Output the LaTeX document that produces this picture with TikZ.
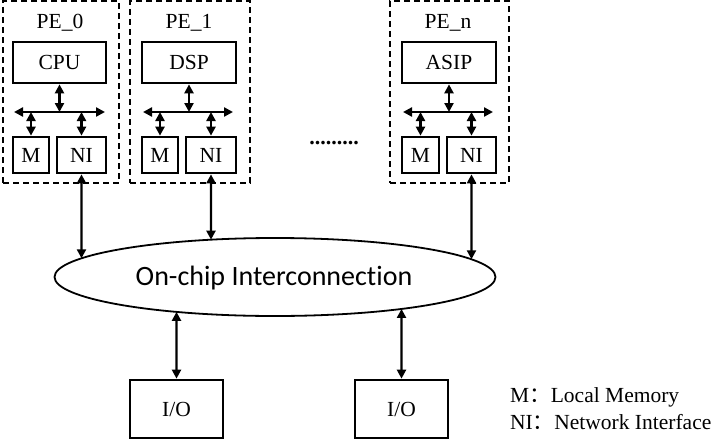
\documentclass[tikz,border=0pt]{standalone}
\usepackage{fontspec}
\setmainfont{Liberation Serif}
\newfontfamily\calfont[Ligatures={NoCommon,NoDiscretionary}]{Carlito}
\newfontfamily\cjkfont{Noto Sans CJK SC}
\usetikzlibrary{arrows.meta,shapes.geometric,intersections}
\begin{document}
\begin{tikzpicture}[x=1pt,y=-1pt,
  pebox/.style={draw,line width=2pt,dash pattern=on 6pt off 4pt,minimum width=#1,minimum height=182pt,inner sep=0pt},
  blk/.style={draw,line width=2.7pt,inner sep=0pt,font=\fontsize{21.5}{24}\selectfont},
  lbl/.style={inner sep=0pt,font=\fontsize{21.5}{24}\selectfont},
  con/.style={line width=2.3pt,{Triangle[length=9pt,width=9pt]}-{Triangle[length=9pt,width=9pt]}}
]
\useasboundingbox (0,0) rectangle (720,447);
\fill[white] (0,0) rectangle (720,447);

% PE boxes
\node[pebox=116pt] (pe0) at (61,92) {};
\node[pebox=120pt] (pe1) at (190,92) {};
\node[pebox=119pt] (pen) at (449.5,92) {};
\node[lbl] (pe0t) at (60,23) {PE\_0};
\node[lbl] (pe1t) at (189,23) {PE\_1};
\node[lbl] (pent) at (448,23) {PE\_n};

% processors
\node[blk,minimum width=93pt,minimum height=41pt] (cpu) at (59.5,62.5) {CPU};
\node[blk,minimum width=94pt,minimum height=41pt] (dsp) at (189,62.5) {DSP};
\node[blk,minimum width=94pt,minimum height=41pt] (asip) at (449,62.5) {ASIP};

% M and NI boxes
\node[blk,minimum width=36pt,minimum height=36pt] (m0) at (31,155) {M};
\node[blk,minimum width=49pt,minimum height=36pt] (ni0) at (81.5,155) {NI};
\node[blk,minimum width=36pt,minimum height=36pt] (m1) at (160,155) {M};
\node[blk,minimum width=50pt,minimum height=36pt] (ni1) at (211,155) {NI};
\node[blk,minimum width=37pt,minimum height=36pt] (mn) at (420.5,155) {M};
\node[blk,minimum width=49pt,minimum height=36pt] (nin) at (471.5,155) {NI};

% buses
\coordinate (b0l) at (14,112);  \coordinate (b0r) at (105,112);
\coordinate (b1l) at (143,112); \coordinate (b1r) at (233,112);
\coordinate (bnl) at (403,112); \coordinate (bnr) at (493,112);
\draw[con] (b0l) -- (b0r);
\draw[con] (b1l) -- (b1r);
\draw[con] (bnl) -- (bnr);

\draw[con] (cpu.south) -- (cpu.south |- b0l);
\draw[con] (dsp.south) -- (dsp.south |- b1l);
\draw[con] (asip.south) -- (asip.south |- bnl);
\draw[con] (m0.north |- b0l) -- (m0.north);
\draw[con] (ni0.north |- b0l) -- (ni0.north);
\draw[con] (m1.north |- b1l) -- (m1.north);
\draw[con] (ni1.north |- b1l) -- (ni1.north);
\draw[con] (mn.north |- bnl) -- (mn.north);
\draw[con] (nin.north |- bnl) -- (nin.north);

% dots
\node[inner sep=0pt,anchor=base,font=\fontsize{22}{24}\selectfont\bfseries] (dots) at (334,144) {.........};

% interconnection
\node[draw,ellipse,line width=1.8pt,minimum width=441pt,minimum height=78pt,inner sep=0pt,name path=ell] (ic) at (275,277) {};
\node[inner sep=0pt,font=\calfont\fontsize{28}{30}\selectfont] (ict) at (274,278) {On-chip Interconnection};

% I/O
\node[blk,minimum width=93pt,minimum height=58pt] (io1) at (176.5,409) {I/O};
\node[blk,minimum width=93pt,minimum height=58pt] (io2) at (401.5,409) {I/O};

% vertical connectors with ellipse
\path[name path=v0] (ni0.south) -- ++(0,150);
\path[name path=v1] (ni1.south) -- ++(0,150);
\path[name path=vn] (nin.south) -- ++(0,150);
\path[name path=w1] (io1.north) -- ++(0,-120);
\path[name path=w2] (io2.north) -- ++(0,-120);
\draw[con,name intersections={of=v0 and ell,by=x0}] (ni0.south) -- (x0);
\draw[con,name intersections={of=v1 and ell,by=x1}] (ni1.south) -- (x1);
\draw[con,name intersections={of=vn and ell,by=xn}] (nin.south) -- (xn);
\draw[con,name intersections={of=w1 and ell,by=y1}] (y1) -- (io1.north);
\draw[con,name intersections={of=w2 and ell,by=y2}] (y2) -- (io2.north);

% legend
\node[lbl,anchor=west] (leg1) at (510,397) {M{\cjkfont ：}Local Memory};
\node[lbl,anchor=west] (leg2) at (510,422) {NI{\cjkfont ：}Network Interface};
\end{tikzpicture}
\end{document}
